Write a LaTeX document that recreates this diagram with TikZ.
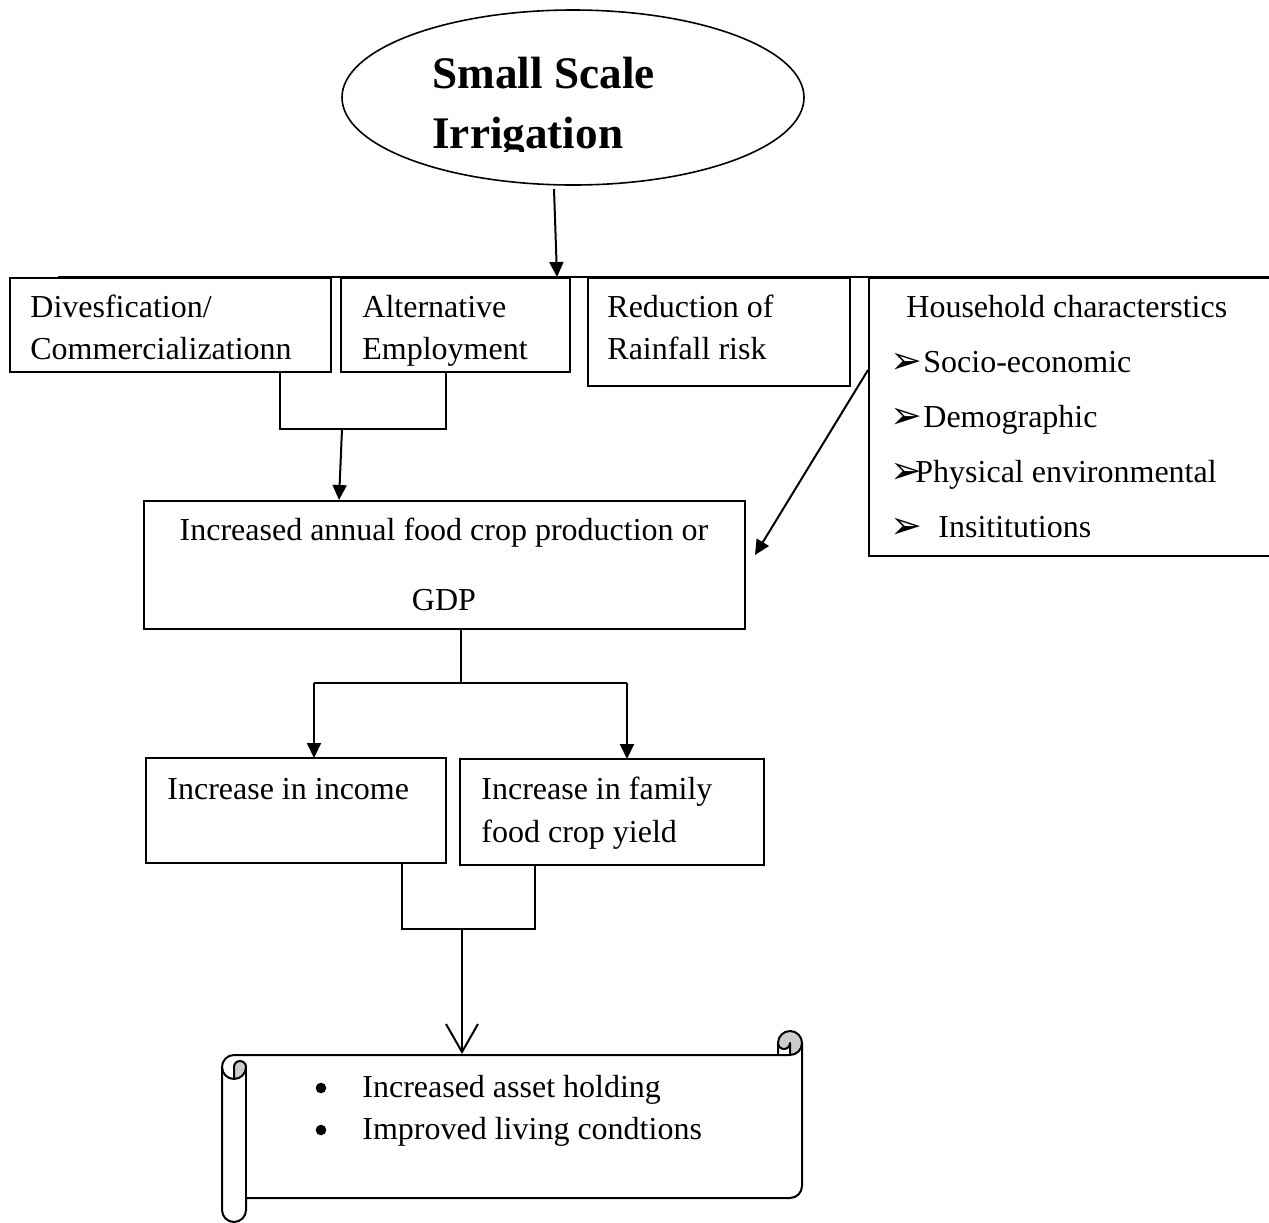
\documentclass[tikz,border=0pt]{standalone}
\usepackage{fontspec}
\setmainfont{Liberation Serif}
\newfontfamily\symfont{DejaVu Sans}
\usetikzlibrary{arrows.meta,shapes.geometric,fit,calc}
\begin{document}
\begin{tikzpicture}[x=0.5pt,y=-0.5pt,
  box/.style={draw,line width=1pt,inner sep=0pt},
  txt/.style={anchor=base west,inner sep=0pt,font=\fontsize{16pt}{21pt}\selectfont},
  ctxt/.style={anchor=base,inner sep=0pt,font=\fontsize{16pt}{21pt}\selectfont},
  bul/.style={circle,fill,inner sep=0pt,minimum size=5.3pt},
  ttl/.style={anchor=base west,inner sep=0pt,font=\fontsize{22.6pt}{30pt}\selectfont\bfseries},
  sym/.style={anchor=base west,inner sep=0pt,font=\fontsize{19pt}{21pt}\symfont},
  conn/.style={line width=1pt},
  arr/.style={line width=1pt,-{Triangle[length=7.5pt,width=7pt]}},
  barb/.style={line width=1pt,-{Straight Barb[length=14pt,width=16pt,line width=1pt]}},
  scroll/.style={line width=1pt,line join=round},
  curl/.style={fill=black!20},
]
\useasboundingbox (0,0) rectangle (1269,1222);
\clip (0,0) rectangle (1269,1222);

% title ellipse
\node[draw,ellipse,line width=0.8pt,minimum width=231pt,minimum height=87.5pt,inner sep=0pt] (ssi) at (573,97.5) {};
\node[ttl] (ssi1) at (432,88) {Small Scale};
\begin{scope}
  \clip (300,0) rectangle (850,151);
  \node[ttl] (ssi2) at (432,148) {Irrigation};
\end{scope}

% first row of boxes
\node[box,fit={(10,278)(331,372)}] (div) {};
\node[box,fit={(341,278)(570,372)}] (alt) {};
\node[box,fit={(588,278)(850,386)}] (red) {};
\node[box,fit={(869,278)(1285,556)}] (hh) {};

\node[txt] (div1) at (30,317) {Divesfication/};
\node[txt] (div2) at (30,359) {Commercializationn};
\node[txt] (alt1) at (362,317) {Alternative};
\node[txt] (alt2) at (362,359) {Employment};
\node[txt] (red1) at (607,317) {Reduction of};
\node[txt] (red2) at (607,359) {Rainfall risk};

\node[txt] (hh0) at (906,317) {Household characterstics};
\node[sym] (b1) at (890,373) {➢};
\node[txt] (hh1) at (923,372) {Socio-economic};
\node[sym] (b2) at (890,428) {➢};
\node[txt] (hh2) at (923,427) {Demographic};
\node[sym] (b3) at (890,483) {➢};
\node[txt] (hh3) at (915,482) {Physical environmental};
\node[sym] (b4) at (890,538) {➢};
\node[txt] (hh4) at (938,537) {Insititutions};

% production box
\node[box,fit={(144,501)(745,629)}] (prod) {};
\node[ctxt] (prod1) at (444,540) {Increased annual food crop production or};
\node[ctxt] (prod2) at (444,610) {GDP};

% income boxes
\node[box,fit={(146,758)(446,863)}] (inco) {};
\node[box,fit={(460,759)(764,865)}] (fam) {};
\node[txt] (inco1) at (167,799) {Increase in income};
\node[txt] (fam1) at (481,799) {Increase in family};
\node[txt] (fam2) at (481,842) {food crop yield};

% connector coordinates
\coordinate (s1) at (554,189);
\coordinate (s1e) at (557,277);
\coordinate (tl) at (58,277);
\coordinate (tr) at (1269,277);
\coordinate (dA) at (280,372);
\coordinate (dAb) at (280,429);
\coordinate (dB) at (446,372);
\coordinate (dBb) at (446,429);
\coordinate (j1) at (342,429);
\coordinate (j1e) at (339,500);
\coordinate (hs) at (868,370);
\coordinate (he) at (755,555);
\coordinate (p1) at (461,629);
\coordinate (p1b) at (461,683);
\coordinate (hl) at (314,683);
\coordinate (hr) at (627,683);
\coordinate (hle) at (314,758);
\coordinate (hre) at (627,759);
\coordinate (dF) at (402,863);
\coordinate (dFb) at (402,929);
\coordinate (dG) at (535,865);
\coordinate (dGb) at (535,929);
\coordinate (j2) at (462,929);
\coordinate (sctop) at (462,1054);

\draw[arr] (s1) -- (s1e);
\draw[conn] (tl) -- (tr);
\draw[conn] (dA) -- (dAb) -- (dBb) -- (dB);
\draw[arr] (j1) -- (j1e);
\draw[arr] (hs) -- (he);
\draw[conn] (p1) -- (p1b);
\draw[conn] (hl) -- (hr);
\draw[arr] (hl) -- (hle);
\draw[arr] (hr) -- (hre);
\draw[conn] (dF) -- (dFb) -- (dGb) -- (dG);
\draw[barb] (j2) -- (sctop);

% scroll shape
\fill[curl] (790,1055) arc[start angle=90,end angle=-180,radius=12]
   arc[start angle=180,end angle=0,radius=6] -- cycle;
\fill[curl] (234,1079) arc[start angle=90,end angle=0,radius=12]
   arc[start angle=0,end angle=-180,radius=6] -- cycle;
\draw[scroll] (222,1067) arc[start angle=180,end angle=270,radius=12]
   -- (778,1055) -- (778,1043) arc[start angle=180,end angle=360,radius=12]
   -- (802,1186) arc[start angle=0,end angle=90,radius=12]
   -- (246,1198) -- (246,1210) arc[start angle=0,end angle=180,radius=12] -- cycle;
\draw[scroll] (778,1055) -- (790,1055) arc[start angle=90,end angle=0,radius=12];
\draw[scroll] (790,1055) -- (790,1043) arc[start angle=0,end angle=180,radius=6];
\draw[scroll] (234,1079) -- (234,1067) arc[start angle=180,end angle=360,radius=6]
   arc[start angle=0,end angle=180,radius=12];
\draw[scroll] (246,1067) -- (246,1198);

\node[bul] (sb1) at (321,1088) {};
\node[txt] (st1) at (362,1097) {Increased asset holding};
\node[bul] (sb2) at (321,1130) {};
\node[txt] (st2) at (362,1139) {Improved living condtions};
\end{tikzpicture}
\end{document}
